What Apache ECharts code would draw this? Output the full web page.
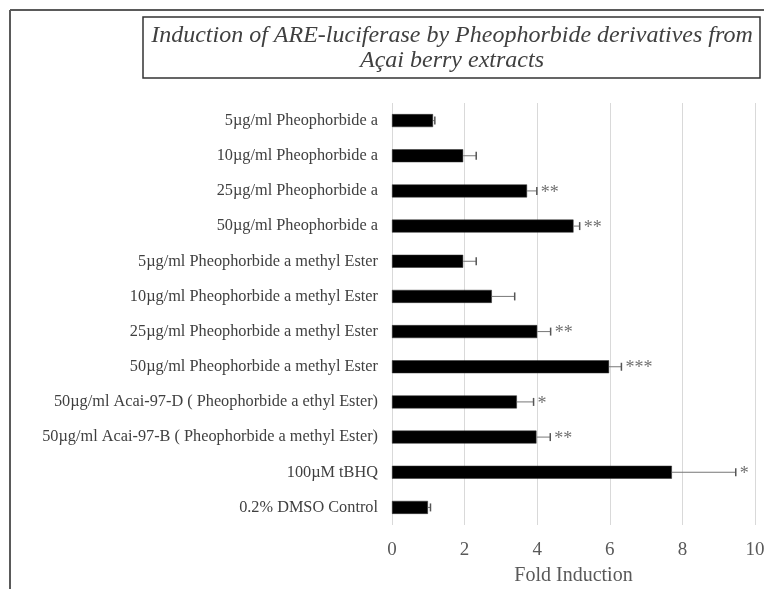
<!DOCTYPE html>
<html>
<head>
<meta charset="utf-8">
<script src="https://cdn.jsdelivr.net/npm/echarts@6/dist/echarts.min.js"></script>
<style>
  html, body { margin: 0; padding: 0; background: #fff; }
  #main { width: 764px; height: 589px; }
</style>
</head>
<body>
<div id="main"></div>
<script>
// groups, top to bottom
var groups = [
  '5µg/ml Pheophorbide a',
  '10µg/ml Pheophorbide a',
  '25µg/ml Pheophorbide a',
  '50µg/ml Pheophorbide a',
  '5µg/ml Pheophorbide a methyl Ester',
  '10µg/ml Pheophorbide a methyl Ester',
  '25µg/ml Pheophorbide a methyl Ester',
  '50µg/ml Pheophorbide a methyl Ester',
  '50µg/ml Acai-97-D ( Pheophorbide a ethyl Ester)',
  '50µg/ml Acai-97-B ( Pheophorbide a methyl Ester)',
  '100µM tBHQ',
  '0.2% DMSO Control'
];
var foldInduction = [1.13, 1.96, 3.72, 5.0, 1.96, 2.75, 4.0, 5.98, 3.44, 3.98, 7.71, 0.99];
var errors = [0.05, 0.36, 0.27, 0.17, 0.36, 0.63, 0.37, 0.34, 0.46, 0.38, 1.76, 0.07];
var stars = ['', '', '**', '**', '', '', '**', '***', '*', '**', '*', ''];
var xTicks = [0, 2, 4, 6, 8, 10];

var serif = '"Liberation Serif", "Times New Roman", serif';
var chart = echarts.init(document.getElementById('main'));

var errData = foldInduction.map(function (v, i) { return [i, v, v + errors[i]]; });

chart.setOption({
  animation: false,
  graphic: [
    { type: 'line', shape: { x1: 10, y1: 10, x2: 764, y2: 10 }, style: { stroke: '#5a5a5a', lineWidth: 2 } },
    { type: 'line', shape: { x1: 10, y1: 10, x2: 10, y2: 589 }, style: { stroke: '#5a5a5a', lineWidth: 2 } },
    { type: 'rect', shape: { x: 143, y: 17, width: 617, height: 61 }, style: { fill: 'none', stroke: '#333', lineWidth: 1.5 } },
    { type: 'text', x: 452, y: 23, style: {
        text: 'Induction of ARE-luciferase by Pheophorbide derivatives from\nAçai berry extracts',
        align: 'center', verticalAlign: 'top', font: 'italic 24px ' + serif, fill: '#404040', lineHeight: 25
      } }
  ],
  grid: { left: 392, right: 9, top: 103, bottom: 64, containLabel: false, outerBoundsMode: 'none' },
  xAxis: {
    type: 'value', min: 0, max: 10, interval: 2,
    axisLine: { show: false }, axisTick: { show: false },
    splitLine: { lineStyle: { color: '#d9d9d9', width: 1 } },
    axisLabel: { fontFamily: serif, fontSize: 19, color: '#595959', margin: 16,
      formatter: function (v) { return xTicks.indexOf(v) >= 0 ? String(v) : ''; } },
    name: 'Fold Induction', nameLocation: 'middle', nameGap: 41,
    nameTextStyle: { fontFamily: serif, fontSize: 20, color: '#595959' }
  },
  yAxis: {
    type: 'category', data: groups, inverse: true,
    axisLine: { show: false }, axisTick: { show: false },
    axisLabel: { fontFamily: serif, fontSize: 16.3, color: '#404040', margin: 14 }
  },
  series: [
    {
      type: 'bar', data: foldInduction, barWidth: 13,
      itemStyle: { color: '#000', borderColor: '#333', borderWidth: 0.5 }
    },
    {
      type: 'custom', data: errData, encode: { x: [1, 2], y: 0 }, z: 3,
      renderItem: function (params, api) {
        var s = api.coord([api.value(1), api.value(0)]);
        var e = api.coord([api.value(2), api.value(0)]);
        var label = stars[params.dataIndex];
        var children = [
          { type: 'line', shape: { x1: s[0], y1: s[1], x2: e[0], y2: e[1] }, style: { stroke: '#777', lineWidth: 1 } },
          { type: 'line', shape: { x1: e[0], y1: e[1] - 4, x2: e[0], y2: e[1] + 4 }, style: { stroke: '#555', lineWidth: 1.5 } }
        ];
        if (label) {
          children.push({ type: 'text', x: e[0] + 4, y: e[1] + 2, style: {
            text: label, font: '18px ' + serif, fill: '#707070', verticalAlign: 'middle', align: 'left' } });
        }
        return { type: 'group', children: children };
      }
    }
  ]
});
</script>
</body>
</html>
